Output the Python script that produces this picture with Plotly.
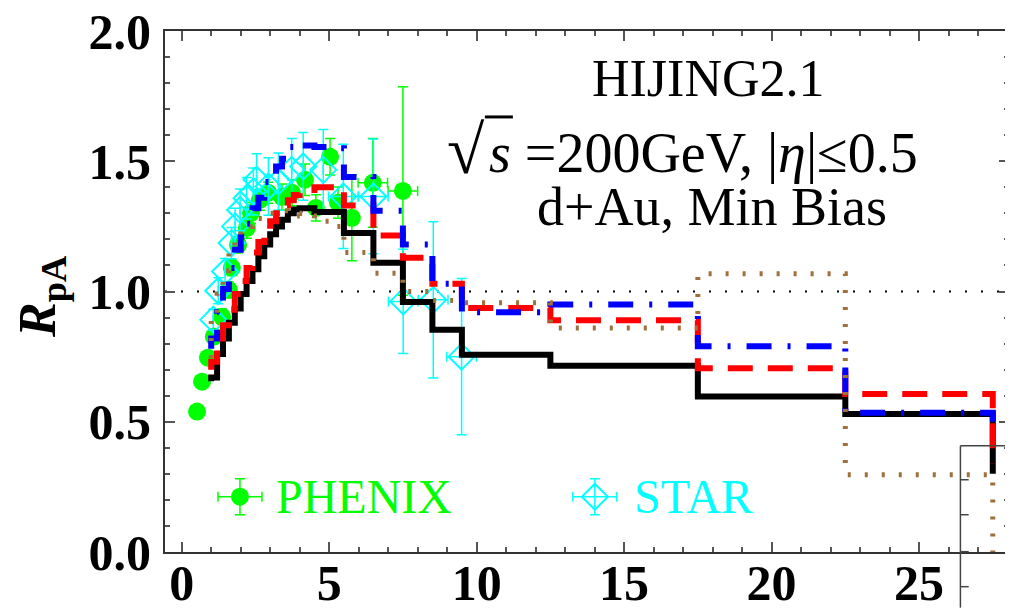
import plotly.graph_objects as go

# ---------------- data ----------------
# HIJING2.1 histograms: bin edges and bin values
bin_edges = [1.0, 1.2, 1.4, 1.6, 1.8, 2.0, 2.2, 2.4, 2.6, 2.8, 3.0, 3.2, 3.4, 3.6, 3.8, 4.0,
             4.5, 5.0, 5.5, 6.5, 7.5, 8.5, 9.5, 12.5, 17.5, 22.5, 27.5]

hij_black = [0.67, 0.76, 0.82, 0.88, 0.935, 0.99, 1.04, 1.085, 1.135, 1.18, 1.22, 1.25, 1.275, 1.30, 1.315,
             1.32, 1.305, 1.305, 1.225, 1.11, 0.96, 0.853, 0.757, 0.715, 0.597, 0.53]
hij_red = [0.73, 0.80, 0.87, 0.93, 0.99, 1.04, 1.09, 1.15, 1.19, 1.23, 1.27, 1.30, 1.33, 1.35, 1.37,
           1.39, 1.40, 1.40, 1.33, 1.215, 1.13, 1.03, 0.937, 0.89, 0.705, 0.607]
hij_blue = [0.82, 0.92, 1.01, 1.09, 1.16, 1.21, 1.26, 1.32, 1.36, 1.42, 1.45, 1.48, 1.51, 1.555, 1.57,
            1.56, 1.555, 1.55, 1.44, 1.31, 1.18, 1.03, 0.92, 0.95, 0.79, 0.535]
hij_brown = [0.89, 0.99, 1.08, 1.15, 1.20, 1.24, 1.25, 1.26, 1.28, 1.29, 1.30, 1.31, 1.31, 1.30, 1.30,
             1.29, 1.27, 1.25, 1.15, 1.07, 1.00, 0.965, 0.957, 0.86, 1.068, 0.297]
# value the curves start from at the first edge and drop to at the last edge
start_vals = {"black": 0.655, "red": 0.70, "blue": 0.78, "brown": 0.745}
tail_vals = {"black": 0.30, "red": 0.34, "blue": 0.50, "brown": 0.0}

# PHENIX data
phenix_pt = [0.52, 0.69, 0.89, 1.09, 1.37, 1.60, 1.70, 1.91, 2.21, 2.35, 2.65, 2.93, 3.40, 3.74,
             4.18, 4.55, 5.03, 5.30, 5.77, 6.48, 7.50]
phenix_r = [0.539, 0.654, 0.746, 0.827, 0.903, 1.006, 1.091, 1.179, 1.244, 1.302, 1.352, 1.379, 1.363, 1.379,
            1.429, 1.321, 1.517, 1.341, 1.283, 1.417, 1.386]
phenix_err = [0.02, 0.02, 0.02, 0.02, 0.03, 0.03, 0.03, 0.03, 0.04, 0.04, 0.04, 0.04, 0.05, 0.05,
              0.06, 0.05, 0.07, 0.06, 0.165, 0.17, 0.40]
phenix_xerr = [0] * 19 + [0.5, 0.5]

# STAR data
star_pt = [1.07, 1.24, 1.47, 1.69, 1.81, 1.98, 2.20, 2.43, 2.54, 2.94, 3.28, 3.73, 4.12, 4.80,
           5.48, 6.50, 7.51, 8.53, 9.49]
star_r = [0.892, 1.003, 1.077, 1.186, 1.250, 1.313, 1.358, 1.384, 1.429, 1.403, 1.422, 1.467, 1.480, 1.467,
          1.365, 1.365, 0.962, 0.968, 0.750]
star_err = [0.04, 0.05, 0.05, 0.06, 0.07, 0.08, 0.08, 0.09, 0.10, 0.11, 0.11, 0.12, 0.13, 0.155,
            0.20, 0.22, 0.20, 0.30, 0.30]
star_xerr = [0] * 14 + [0.5, 0.5, 0.5, 0.5, 0.5]

x_ticks = [0, 5, 10, 15, 20, 25]
y_ticks = [0.0, 0.5, 1.0, 1.5, 2.0]
y_ticklabels = ["0.0", "0.5", "1.0", "1.5", "2.0"]

# ---------------- layout geometry (screen pixels) ----------------
W, H = 1013, 608
PAGE_OFF = 8          # the page body offsets the figure by 8 px
L, R, T, B = 165, 1009.3, 31, 552.3
XR = [-0.566, 28.05]
YR = [0.0, 2.0]


def pxx(px):
    return (px - L) / (R - L)


def pxy(py):
    return (B - py) / (B - T)


def dx(px):  # pixel -> data x
    return XR[0] + (px - L) / (R - L) * (XR[1] - XR[0])


def dy(py):
    return YR[0] + (B - py) / (B - T) * (YR[1] - YR[0])


SERIF = "Liberation Serif"
GREEN = "#00FF00"
CYAN = "#00FFFF"
BROWN = "#A0703C"

fig = go.Figure()

# data points
fig.add_trace(go.Scatter(
    x=phenix_pt, y=phenix_r, mode="markers",
    marker=dict(symbol="circle", size=18, color=GREEN),
    error_y=dict(type="data", array=phenix_err, color=GREEN, thickness=1.5, width=5),
    error_x=dict(type="data", array=phenix_xerr, color=GREEN, thickness=1.5, width=5),
    showlegend=False))
fig.add_trace(go.Scatter(
    x=star_pt, y=star_r, mode="markers",
    marker=dict(symbol="diamond-open", size=20, color=CYAN, line=dict(width=2, color=CYAN)),
    error_y=dict(type="data", array=star_err, color=CYAN, thickness=1.5, width=5),
    error_x=dict(type="data", array=star_xerr, color=CYAN, thickness=1.5, width=5),
    showlegend=False))


def step_trace(vals, key, color, dash, width):
    xs = [bin_edges[0]] + bin_edges
    ys = [start_vals[key]] + vals + [tail_vals[key]]
    return go.Scatter(x=xs, y=ys, mode="lines", line_shape="hv",
                      line=dict(color=color, dash=dash, width=width), showlegend=False)


fig.add_trace(step_trace(hij_black, "black", "black", "solid", 6))
fig.add_trace(step_trace(hij_red, "red", "#FF0000", "25px,15px", 6))
fig.add_trace(step_trace(hij_blue, "blue", "#0000FF", "25px,16px,3px,16px", 6))
fig.add_trace(step_trace(hij_brown, "brown", BROWN, "3px,14px", 5))

# legend keys (drawn as single markers with error bars)
leg_y = dy(497)
fig.add_trace(go.Scatter(
    x=[dx(240)], y=[leg_y], mode="markers",
    marker=dict(symbol="circle", size=18, color=GREEN),
    error_y=dict(type="constant", value=18 / 260.6, color=GREEN, thickness=1.5, width=5),
    error_x=dict(type="constant", value=22 / 29.5, color=GREEN, thickness=1.5, width=5),
    showlegend=False))
fig.add_trace(go.Scatter(
    x=[dx(595)], y=[leg_y], mode="markers",
    marker=dict(symbol="diamond-open", size=20, color=CYAN, line=dict(width=2, color=CYAN)),
    error_y=dict(type="constant", value=18 / 260.6, color=CYAN, thickness=1.5, width=5),
    error_x=dict(type="constant", value=22 / 29.5, color=CYAN, thickness=1.5, width=5),
    showlegend=False))

annotations = [
    dict(text="PHENIX", x=pxx(274), y=pxy(497), xanchor="left", yanchor="middle",
         font=dict(family=SERIF, size=48, color=GREEN)),
    dict(text="STAR", x=pxx(632), y=pxy(497), xanchor="left", yanchor="middle",
         font=dict(family=SERIF, size=48, color=CYAN)),
    dict(text="HIJING2.1", x=pxx(709), y=pxy(79), xanchor="center", yanchor="middle",
         font=dict(family=SERIF, size=52, color="black")),
    dict(text="√", x=pxx(466), y=pxy(150), xanchor="center", yanchor="middle",
         font=dict(family=SERIF, size=68, color="black")),
    dict(text="<i>s</i> =200GeV, |<i>η</i>|≤0.5", x=pxx(487), y=pxy(153), xanchor="left", yanchor="middle",
         font=dict(family=SERIF, size=56, color="black")),
    dict(text="d+Au, Min Bias", x=pxx(712), y=pxy(207), xanchor="center", yanchor="middle",
         font=dict(family=SERIF, size=54, color="black")),
    dict(text="<b><i>R</i><sub>pA</sub></b>", x=pxx(42), y=pxy(297), xanchor="center", yanchor="middle",
         textangle=-90, font=dict(family=SERIF, size=52, color="black")),
]
for a in annotations:
    a.update(xref="paper", yref="paper", showarrow=False)

shapes = [
    # reference line at R = 1
    dict(type="line", xref="paper", yref="y", x0=0, x1=1, y0=1, y1=1,
         line=dict(color="black", width=2, dash="2px,14px"), layer="below"),
    # overbar of sqrt
    dict(type="line", xref="paper", yref="paper", x0=pxx(485), x1=pxx(513), y0=pxy(117), y1=pxy(117),
         line=dict(color="black", width=3)),
    # frame of the neighbouring panel
    dict(type="line", xref="paper", yref="paper", x0=pxx(960.7), x1=pxx(1013), y0=pxy(446), y1=pxy(446),
         line=dict(color="#444", width=1.5)),
    dict(type="line", xref="paper", yref="paper", x0=pxx(960.7), x1=pxx(960.7), y0=pxy(446), y1=pxy(608),
         line=dict(color="#444", width=1.5)),
]
for ty in [480, 515, 552, 587]:
    shapes.append(dict(type="line", xref="paper", yref="paper", x0=pxx(960.7), x1=pxx(969),
                       y0=pxy(ty), y1=pxy(ty), line=dict(color="#444", width=1.5)))

axis_common = dict(showgrid=False, zeroline=False, showline=True, linecolor="#333", linewidth=2,
                   mirror="allticks", ticks="inside", ticklen=10, tickwidth=1.5, tickcolor="#555",
                   automargin=False, ticklabeloverflow="allow",
                   tickfont=dict(family=SERIF, size=50, color="black", weight="bold"))

fig.update_layout(
    width=W, height=H,
    margin=dict(l=L - PAGE_OFF, r=W - (R - PAGE_OFF), t=T - PAGE_OFF, b=H - (B - PAGE_OFF),
                autoexpand=False),
    paper_bgcolor="white", plot_bgcolor="white",
    xaxis=dict(range=XR, tickvals=x_ticks, ticktext=[str(v) for v in x_ticks],
               minor=dict(dtick=1, tick0=0, ticks="inside", ticklen=5, tickwidth=1.5, tickcolor="#555"),
               ticklabelstandoff=-14, **axis_common),
    yaxis=dict(range=YR, tickvals=y_ticks, ticktext=y_ticklabels,
               minor=dict(dtick=0.1, tick0=0, ticks="inside", ticklen=5, tickwidth=1.5, tickcolor="#555"),
               ticklabelstandoff=2, **axis_common),
    annotations=annotations,
    shapes=shapes,
)

fig.write_html("out.html")
